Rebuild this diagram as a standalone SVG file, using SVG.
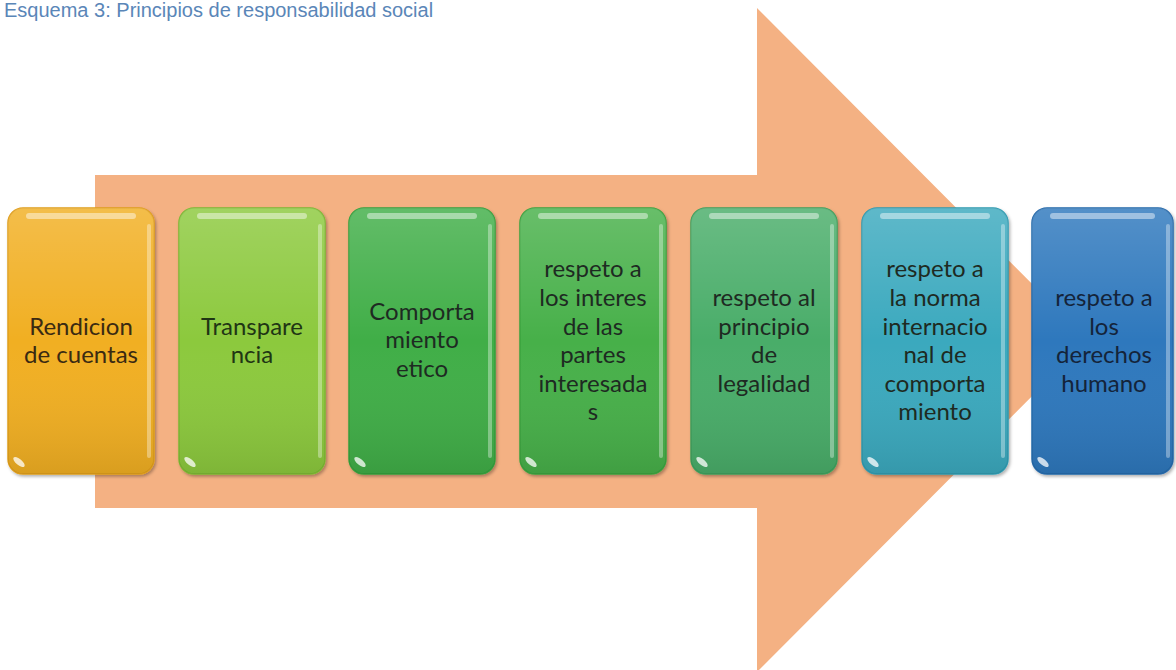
<svg xmlns="http://www.w3.org/2000/svg" width="1176" height="670" viewBox="0 0 1176 670">
  <defs>
    <style>
      .title { font-family: "Liberation Sans", Arial, sans-serif; font-size: 20px; fill: #5a86b8; }
      .lbl { font-family: Lato, "Open Sans", "Liberation Sans", sans-serif; font-size: 24px; fill: #1e2a22; text-anchor: middle; }
      .box { stroke-width: 1.5; }
      .shade { fill: url(#shade); }
      .stripe { fill: #ffffff; opacity: 0.45; }
      .edge { fill: #ffffff; opacity: 0.35; }
      .glint { fill: #ffffff; opacity: 0.75; }
    </style>
    <linearGradient id="shade" x1="0" y1="0" x2="0" y2="1">
      <stop offset="0" stop-color="#ffffff" stop-opacity="0.18"/>
      <stop offset="0.5" stop-color="#ffffff" stop-opacity="0"/>
      <stop offset="1" stop-color="#000000" stop-opacity="0.10"/>
    </linearGradient>
    <filter id="sh" x="-10%" y="-10%" width="130%" height="130%">
      <feDropShadow dx="1.5" dy="2" stdDeviation="1.5" flood-color="#000000" flood-opacity="0.3"/>
    </filter>
  </defs>

  <rect x="0" y="0" width="1176" height="670" fill="#ffffff"/>

  <text class="title" x="4" y="17">Esquema 3: Principios de responsabilidad social</text>

  <g id="connectors">
    <polygon id="background-arrow" points="95,175 757,175 757,8 1088,340 757,672 757,508 95,508" fill="#f4b183"/>
  </g>

  <g id="node-1">
    <rect class="box" x="8" y="208" width="146" height="266" rx="15" fill="#f1af24" stroke="#e09e1a" filter="url(#sh)"/>
    <rect class="shade" x="8" y="208" width="146" height="266" rx="15"/>
    <rect class="stripe" x="26" y="213" width="110" height="6" rx="3"/>
    <rect class="edge" x="147" y="224" width="4" height="234" rx="2"/>
    <ellipse class="glint" cx="19" cy="462" rx="7" ry="3" transform="rotate(40 19 462)"/>
    <text class="lbl" style="fill:#3a2a12"><tspan x="81" y="335">Rendicion</tspan><tspan x="81" y="363">de cuentas</tspan></text>
  </g>

  <g id="node-2">
    <rect class="box" x="179" y="208" width="146" height="266" rx="15" fill="#8cc93e" stroke="#7cb832" filter="url(#sh)"/>
    <rect class="shade" x="179" y="208" width="146" height="266" rx="15"/>
    <rect class="stripe" x="197" y="213" width="110" height="6" rx="3"/>
    <rect class="edge" x="318" y="224" width="4" height="234" rx="2"/>
    <ellipse class="glint" cx="190" cy="462" rx="7" ry="3" transform="rotate(40 190 462)"/>
    <text class="lbl" style="fill:#1f3514"><tspan x="252" y="335">Transpare</tspan><tspan x="252" y="363">ncia</tspan></text>
  </g>

  <g id="node-3">
    <rect class="box" x="349" y="208" width="146" height="266" rx="15" fill="#3fae47" stroke="#34a03c" filter="url(#sh)"/>
    <rect class="shade" x="349" y="208" width="146" height="266" rx="15"/>
    <rect class="stripe" x="367" y="213" width="110" height="6" rx="3"/>
    <rect class="edge" x="488" y="224" width="4" height="234" rx="2"/>
    <ellipse class="glint" cx="360" cy="462" rx="7" ry="3" transform="rotate(40 360 462)"/>
    <text class="lbl"><tspan x="422" y="320">Comporta</tspan><tspan x="422" y="348">miento</tspan><tspan x="422" y="377">etico</tspan></text>
  </g>

  <g id="node-4">
    <rect class="box" x="520" y="208" width="146" height="266" rx="15" fill="#46b04a" stroke="#3aa23e" filter="url(#sh)"/>
    <rect class="shade" x="520" y="208" width="146" height="266" rx="15"/>
    <rect class="stripe" x="538" y="213" width="110" height="6" rx="3"/>
    <rect class="edge" x="659" y="224" width="4" height="234" rx="2"/>
    <ellipse class="glint" cx="531" cy="462" rx="7" ry="3" transform="rotate(40 531 462)"/>
    <text class="lbl"><tspan x="593" y="277">respeto a</tspan><tspan x="593" y="306">los interes</tspan><tspan x="593" y="335">de las</tspan><tspan x="593" y="363">partes</tspan><tspan x="593" y="392">interesada</tspan><tspan x="593" y="420">s</tspan></text>
  </g>

  <g id="node-5">
    <rect class="box" x="691" y="208" width="146" height="266" rx="15" fill="#48ad69" stroke="#3c9f5c" filter="url(#sh)"/>
    <rect class="shade" x="691" y="208" width="146" height="266" rx="15"/>
    <rect class="stripe" x="709" y="213" width="110" height="6" rx="3"/>
    <rect class="edge" x="830" y="224" width="4" height="234" rx="2"/>
    <ellipse class="glint" cx="702" cy="462" rx="7" ry="3" transform="rotate(40 702 462)"/>
    <text class="lbl"><tspan x="764" y="306">respeto al</tspan><tspan x="764" y="335">principio</tspan><tspan x="764" y="363">de</tspan><tspan x="764" y="392">legalidad</tspan></text>
  </g>

  <g id="node-6">
    <rect class="box" x="862" y="208" width="146" height="266" rx="15" fill="#3aa9be" stroke="#2f9ab0" filter="url(#sh)"/>
    <rect class="shade" x="862" y="208" width="146" height="266" rx="15"/>
    <rect class="stripe" x="880" y="213" width="110" height="6" rx="3"/>
    <rect class="edge" x="1001" y="224" width="4" height="234" rx="2"/>
    <ellipse class="glint" cx="873" cy="462" rx="7" ry="3" transform="rotate(40 873 462)"/>
    <text class="lbl"><tspan x="935" y="277">respeto a</tspan><tspan x="935" y="306">la norma</tspan><tspan x="935" y="335">internacio</tspan><tspan x="935" y="363">nal de</tspan><tspan x="935" y="392">comporta</tspan><tspan x="935" y="420">miento</tspan></text>
  </g>

  <g id="node-7">
    <rect class="box" x="1032" y="208" width="141" height="266" rx="15" fill="#2d78bd" stroke="#2569aa" filter="url(#sh)"/>
    <rect class="shade" x="1032" y="208" width="141" height="266" rx="15"/>
    <rect class="stripe" x="1050" y="213" width="105" height="6" rx="3"/>
    <rect class="edge" x="1166" y="224" width="4" height="234" rx="2"/>
    <ellipse class="glint" cx="1043" cy="462" rx="7" ry="3" transform="rotate(40 1043 462)"/>
    <text class="lbl" style="fill:#14243a"><tspan x="1104" y="306">respeto a</tspan><tspan x="1104" y="335">los</tspan><tspan x="1104" y="363">derechos</tspan><tspan x="1104" y="392">humano</tspan></text>
  </g>
</svg>
